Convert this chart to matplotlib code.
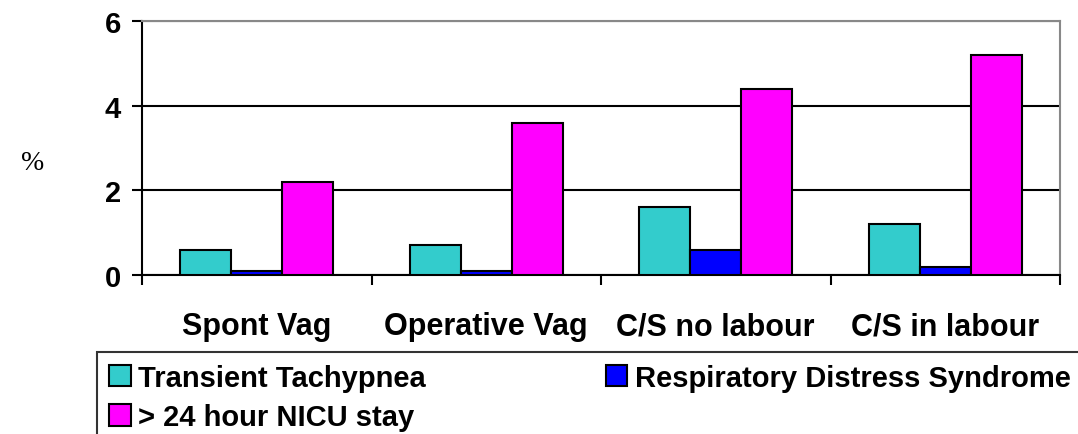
import matplotlib
matplotlib.use("Agg")
import matplotlib.pyplot as plt
import numpy as np

# data
categories = ["Spont Vag", "Operative Vag", "C/S no labour", "C/S in labour"]
transient_tachypnea = [0.6, 0.7, 1.6, 1.2]
rds = [0.1, 0.1, 0.6, 0.2]
nicu_stay = [2.2, 3.6, 4.4, 5.2]
series_names = ["Transient Tachypnea", "Respiratory Distress Syndrome", "> 24 hour NICU stay"]
colors = ["#33CCCC", "#0000FF", "#FF00FF"]

plt.rcParams["font.family"] = ["Liberation Sans", "DejaVu Sans"]

fig = plt.figure(figsize=(10.78, 4.35), dpi=100)
ax = fig.add_axes([142/1078, 1-276/435, (1060-142)/1078, (276-22)/435])

x = np.arange(len(categories))
w = 0.222
bars = []
for i, (vals, c) in enumerate(zip([transient_tachypnea, rds, nicu_stay], colors)):
    b = ax.bar(x + (i-1)*w, vals, w, color=c, edgecolor="black", linewidth=1.5, zorder=3)
    bars.append(b)

ax.set_xlim(-0.5, len(categories)-0.5)
ax.set_ylim(0, 6)
ax.set_yticks([0, 2, 4, 6])
ax.yaxis.grid(True, color="black", linewidth=1.5, zorder=1)
ax.set_axisbelow(True)

ax.set_xticks(x)
ax.set_xticklabels(categories, fontsize=22, fontweight="bold")
ax.set_xticks(np.arange(len(categories)+1) - 0.5, minor=True)
ax.tick_params(axis="x", which="major", length=0, pad=26)
ax.tick_params(axis="x", which="minor", length=7, width=1.5, direction="out")
ax.tick_params(axis="y", length=7, width=1.5, direction="out", pad=8)
for lab in ax.get_yticklabels():
    lab.set_fontsize(21)
    lab.set_fontweight("bold")

for s in ["left", "bottom"]:
    ax.spines[s].set_linewidth(1.5)
    ax.spines[s].set_color("black")
for s in ["top", "right"]:
    ax.spines[s].set_linewidth(1.5)
    ax.spines[s].set_color("#888888")

fig.text(33/1078, 1-163/435, "%", fontsize=20, family="Liberation Serif", va="center", ha="center")

# column-major fill: order so row 1 = TT, RDS and row 2 = NICU
order = [0, 2, 1]
leg = fig.legend([bars[i][0] for i in order], [series_names[i] for i in order], ncol=2,
                 loc="upper left",
                 bbox_to_anchor=(97/1078, 0.0, 1-97/1078 + 0.004, 1-353/435),
                 mode="expand", prop={"weight": "bold", "size": 21},
                 frameon=True, fancybox=False, edgecolor="black",
                 handlelength=0.75, handleheight=0.75, handletextpad=0.25,
                 borderaxespad=0, borderpad=0.4, labelspacing=0.4)
leg.get_frame().set_linewidth(1.5)

fig.savefig("out.png", dpi=100)
